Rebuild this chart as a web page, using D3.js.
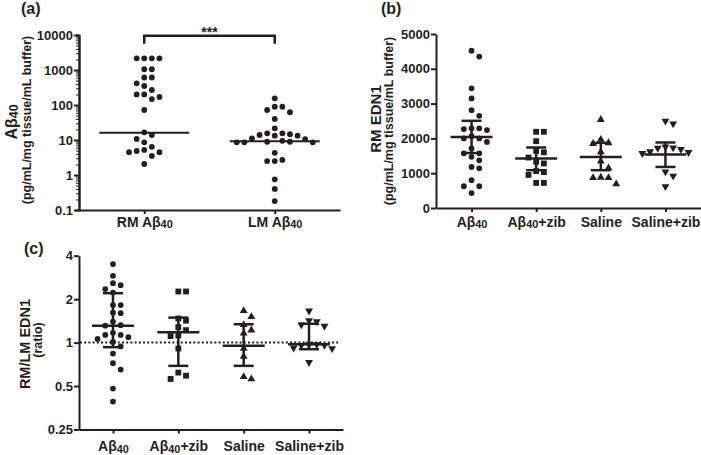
<!DOCTYPE html>
<html><head><meta charset="utf-8">
<script src="https://cdn.jsdelivr.net/npm/d3@7"></script>
<style>body{margin:0;background:#fff}svg{display:block}</style>
</head><body>
<script>
// ---------- DATA ----------
const catsA = ["RM Aβ40", "LM Aβ40"];
const rmAb40 = [2160, 2160, 2160, 2160, 1050, 1050, 610, 610, 417, 349, 268, 200, 200, 169, 148, 72,
  16.6, 13.9, 10.7, 8.6, 6.4, 5.2, 4.85, 4.5, 4.5, 3.5, 2.06];
const lmAb40 = [155, 89, 89, 72, 62, 40, 21.6, 15.5, 15.5, 14.6, 13.9, 13.3, 13.3, 11.2, 10.5, 9.5,
  8.9, 8.9, 8.6, 8.6, 8.6, 4.3, 2.7, 2.5, 2.5, 0.75, 0.4, 0.18];
const medianA = [16, 9.2];
const yTicksA = [0.1, 1, 10, 100, 1000, 10000];
const yTickLabelsA = ["0.1", "1", "10", "100", "1000", "10000"];
const sigA = "***";

const catsBC = ["Aβ40", "Aβ40+zib", "Saline", "Saline+zib"];
const bAb40 = [4520, 4350, 3440, 3150, 2810, 2650, 2290, 2290, 2270, 2240, 2065, 2000, 2000, 1900,
  1710, 1570, 1570, 1470, 1370, 1180, 1140, 800, 625, 625, 430];
const bAb40Zib = [2190, 2190, 1920, 1640, 1600, 1450, 1330, 1280, 1060, 1030, 950, 720, 720];
const bSaline = [2540, 1970, 1870, 1850, 1610, 1345, 1150, 880, 870, 870, 690];
const bSalineZib = [2500, 2420, 1760, 1730, 1720, 1690, 1620, 1600, 1570, 1040, 920, 620];
const bMean = [2040, 1420, 1468, 1538];
const bLow = [1580, 1086, 1086, 1180];
const bHigh = [2505, 1739, 1872, 1883];
const yTicksB = [0, 1000, 2000, 3000, 4000, 5000];
const yTickLabelsB = ["0", "1000", "2000", "3000", "4000", "5000"];

const cAb40 = [3.5, 2.9, 2.58, 2.5, 2.35, 2.22, 1.82, 1.82, 1.61, 1.6, 1.4, 1.32, 1.31, 1.17, 1.13,
  1.13, 1.09, 1.06, 1.01, 0.94, 0.84, 0.72, 0.65, 0.48, 0.39];
const cAb40Zib = [2.26, 2.26, 1.47, 1.42, 1.28, 1.22, 1.12, 1.11, 0.91, 0.62, 0.59, 0.56];
const cSaline = [1.66, 1.51, 1.33, 1.22, 1.16, 0.91, 0.80, 0.58, 0.56];
const cSalineZib = [1.66, 1.42, 1.40, 1.33, 1.30, 0.97, 0.97, 0.96, 0.96, 0.92, 0.91, 0.73];
const cMean = [1.31, 1.18, 0.95, 0.975];
const cLow = [0.93, 0.69, 0.69, 0.90];
const cHigh = [2.2, 1.49, 1.34, 1.35];
const cRef = 1;
const yTicksC = [0.25, 0.5, 1, 2, 4];
const yTickLabelsC = ["0.25", "0.5", "1", "2", "4"];

// ---------- SETUP ----------
const INK = "#231f20";
const FONT = "'Liberation Sans', Arial, Helvetica, sans-serif";
const svg = d3.select("body").append("svg").attr("width", 701).attr("height", 455)
  .attr("font-family", FONT).attr("font-weight", "bold").attr("fill", INK);

function rich(textSel, str) {
  textSel.each(function () {
    const t = d3.select(this);
    const s = str === undefined ? t.text() : str;
    t.text(null);
    const parts = s.split(/(40)/);
    let shifted = false;
    parts.forEach(p => {
      if (!p) return;
      if (p === "40") {
        t.append("tspan").attr("font-size", "0.78em").attr("dy", 1.5).text(p);
        shifted = true;
      } else {
        const ts = t.append("tspan").text(p);
        if (shifted) { ts.attr("dy", -1.5); shifted = false; }
      }
    });
  });
}

function styleAxis(g, fs) {
  g.attr("font-family", FONT).attr("font-size", fs).attr("font-weight", "bold");
  g.select(".domain").attr("stroke", INK).attr("stroke-width", 2);
  g.selectAll(".tick line").attr("stroke", INK).attr("stroke-width", 2);
  g.selectAll(".tick text").attr("fill", INK);
}

function swarm(values, y, cx, step, minDist) {
  const pts = values.map(v => ({ v, y: y(v) }));
  const order = pts.slice().sort((a, b) => a.y - b.y);
  const placed = [];
  for (const p of order) {
    for (let k = 0; k < 80; k++) {
      const off = k === 0 ? 0 : (k % 2 ? 1 : -1) * Math.ceil(k / 2) * step;
      const x = cx + off;
      if (placed.every(q => Math.hypot(q.x - x, q.y - p.y) >= minDist)) { p.x = x; break; }
    }
    placed.push(p);
  }
  return pts;
}

function ylabel(x, y, str, fs) {
  const t = svg.append("text").attr("transform", `translate(${x},${y}) rotate(-90)`)
    .attr("text-anchor", "middle").attr("font-size", fs);
  rich(t, str);
}

// ---------- PANEL (a) ----------
{
  const y = d3.scaleLog().domain([0.1, 10000]).range([210, 35]);
  const x = d3.scalePoint().domain(catsA).range([79, 340]).padding(0.5);
  const minors = [];
  for (let e = -1; e < 4; e++) for (let m = 2; m <= 9; m++) minors.push(m * Math.pow(10, e));
  svg.append("g").attr("transform", "translate(79,0)")
    .call(d3.axisLeft(y).tickValues(minors).tickSize(3).tickFormat(""))
    .call(g => styleAxis(g, 13)).call(g => g.selectAll(".tick line").attr("stroke-width", 1));
  svg.append("g").attr("transform", "translate(79,0)")
    .call(d3.axisLeft(y).tickValues(yTicksA).tickSize(5).tickSizeOuter(0).tickPadding(1)
      .tickFormat((d, i) => yTickLabelsA[i]))
    .call(g => styleAxis(g, 13));
  svg.append("g").attr("transform", "translate(0,210)")
    .call(d3.axisBottom(x).tickSize(4).tickSizeOuter(0))
    .call(g => styleAxis(g, 14))
    .call(g => g.selectAll(".tick text").attr("y", 16.5).attr("dy", 0).each(function () { rich(d3.select(this)); }));

  const groups = [rmAb40, lmAb40];
  groups.forEach((vals, i) => {
    const pts = swarm(vals, y, x(catsA[i]), 7.6, 7.3);
    svg.append("g").selectAll("circle").data(pts).join("circle")
      .attr("cx", d => d.x).attr("cy", d => d.y).attr("r", 2.9).attr("fill", INK);
  });
  svg.append("g").selectAll("line").data(medianA).join("line")
    .attr("x1", (d, i) => x(catsA[i]) - 45).attr("x2", (d, i) => x(catsA[i]) + 45)
    .attr("y1", d => y(d)).attr("y2", d => y(d)).attr("stroke", INK).attr("stroke-width", 2);

  const x1 = x(catsA[0]), x2 = x(catsA[1]), top = y(10000) + 0.7;
  svg.append("path").attr("d", `M${x1},${top + 8}V${top}H${x2}V${top + 8}`)
    .attr("fill", "none").attr("stroke", INK).attr("stroke-width", 2.5);
  svg.append("text").attr("x", (x1 + x2) / 2).attr("y", 37).attr("text-anchor", "middle")
    .attr("font-size", 14).text(sigA);

  ylabel(16.5, 122, "Aβ40", 16);
  ylabel(31, 120, "(pg/mL/mg tissue/mL buffer)", 12.5);
  svg.append("text").attr("x", 21).attr("y", 13.5).attr("font-size", 16).text("(a)");
}

const shapes = [
  { type: d3.symbolCircle, size: 26, rot: 0 },
  { type: d3.symbolSquare, size: 34, rot: 0 },
  { type: d3.symbolTriangle, size: 27, rot: 0 },
  { type: d3.symbolTriangle, size: 27, rot: 180 }
];

function panelBC(opts) {
  const { y, x, groups, mean, low, high } = opts;
  groups.forEach((vals, i) => {
    const pts = swarm(vals, y, x(catsBC[i]), 7.7, 6.9);
    const sh = shapes[i];
    svg.append("g").selectAll("path").data(pts).join("path")
      .attr("d", d3.symbol().type(sh.type).size(sh.size))
      .attr("transform", d => `translate(${d.x},${d.y}) rotate(${sh.rot})`)
      .attr("fill", INK);
  });
  const g = svg.append("g").attr("stroke", INK).attr("stroke-width", 2.5);
  mean.forEach((m, i) => {
    const cx = x(catsBC[i]);
    g.append("line").attr("x1", cx).attr("x2", cx).attr("y1", y(low[i])).attr("y2", y(high[i]));
    g.append("line").attr("x1", cx - 10).attr("x2", cx + 10).attr("y1", y(low[i])).attr("y2", y(low[i]));
    g.append("line").attr("x1", cx - 10).attr("x2", cx + 10).attr("y1", y(high[i])).attr("y2", y(high[i]));
    g.append("line").attr("x1", cx - 21).attr("x2", cx + 21).attr("y1", y(m)).attr("y2", y(m));
  });
}

// ---------- PANEL (b) ----------
{
  const y = d3.scaleLinear().domain([0, 5000]).range([208, 34]);
  const x = d3.scalePoint().domain(catsBC).range([436, 701]).padding(0.55);
  svg.append("g").attr("transform", "translate(436,0)")
    .call(d3.axisLeft(y).tickValues(yTicksB).tickSize(5).tickSizeOuter(0).tickPadding(1)
      .tickFormat((d, i) => yTickLabelsB[i]))
    .call(g => styleAxis(g, 13));
  svg.append("g").attr("transform", "translate(0,208)")
    .call(d3.axisBottom(x).tickSize(4).tickSizeOuter(0))
    .call(g => styleAxis(g, 14))
    .call(g => g.selectAll(".tick text").attr("y", 18.5).attr("dy", 0).each(function () { rich(d3.select(this)); }));
  panelBC({ y, x, groups: [bAb40, bAb40Zib, bSaline, bSalineZib], mean: bMean, low: bLow, high: bHigh });
  ylabel(381, 119, "RM EDN1", 15);
  ylabel(392.5, 121, "(pg/mL/mg tissue/mL buffer)", 12.5);
  svg.append("text").attr("x", 381).attr("y", 13.5).attr("font-size", 16).text("(b)");
}

// ---------- PANEL (c) ----------
{
  const y = d3.scaleLog().base(2).domain([0.25, 4]).range([429.5, 255.7]);
  const x = d3.scalePoint().domain(catsBC).range([79, 343]).padding(0.52);
  svg.append("g").attr("transform", "translate(79,0)")
    .call(d3.axisLeft(y).tickValues(yTicksC).tickSize(5).tickSizeOuter(0).tickPadding(1)
      .tickFormat((d, i) => yTickLabelsC[i]))
    .call(g => styleAxis(g, 13));
  svg.append("g").attr("transform", "translate(0,429.5)")
    .call(d3.axisBottom(x).tickSize(4).tickSizeOuter(0))
    .call(g => styleAxis(g, 14))
    .call(g => g.selectAll(".tick text").attr("y", 21.5).attr("dy", 0).each(function () { rich(d3.select(this)); }));
  svg.append("line").attr("x1", 80).attr("x2", 338).attr("y1", y(cRef)).attr("y2", y(cRef))
    .attr("stroke", INK).attr("stroke-width", 2).attr("stroke-dasharray", "2,2.2");
  panelBC({ y, x, groups: [cAb40, cAb40Zib, cSaline, cSalineZib], mean: cMean, low: cLow, high: cHigh });
  ylabel(30, 344, "RM/LM EDN1", 14.5);
  ylabel(42, 340, "(ratio)", 12.5);
  svg.append("text").attr("x", 24).attr("y", 254).attr("font-size", 16).text("(c)");
}
</script>
</body></html>
